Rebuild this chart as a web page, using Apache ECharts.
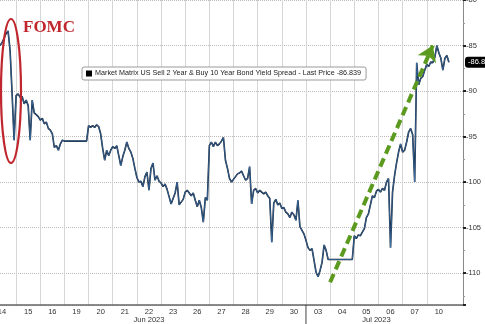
<!DOCTYPE html>
<html>
<head>
<meta charset="utf-8">
<script src="https://cdn.jsdelivr.net/npm/echarts@6/dist/echarts.min.js"></script>
<style>
html, body { margin: 0; padding: 0; background: #fff; }
#chart { width: 485px; height: 324px; }
</style>
</head>
<body>
<div id="chart"></div>
<script>
// trading days on the axis (Jun 14 .. Jul 10, 2023)
var days = ['14', '15', '16', '19', '20', '21', '22', '23', '26', '27', '28', '29', '30', '03', '04', '05', '06', '07', '10'];

// intraday 2s10s spread readings, one array per day
var d14 = [-85.0, -84.7, -84.2, -83.7, -83.4, -85.5, -90.2, -95.4];
var d15 = [-90.5, -90.3, -90.7, -90.6, -91.4, -91.0, -91.6, -95.4, -91.0, -92.4, -92.6, -92.8];
var d16 = [-93.2, -93.0, -93.6, -93.4, -94.1, -94.3, -94.7, -96.2, -96.0, -96.5, -95.8, -95.4];
var d19 = [-95.5, -95.5, -95.5, -95.5, -95.5, -95.5, -95.5, -95.5, -95.5, -95.5, -95.5, -95.5];
var d20 = [-93.8, -94.0, -93.8, -94.0, -93.7, -93.9, -94.7, -96.3, -97.6, -96.5, -97.1, -96.5];
var d21 = [-96.1, -96.3, -96.0, -97.1, -98.2, -97.2, -96.5, -95.6, -96.3, -96.7, -97.4, -98.5];
var d22 = [-99.5, -100.0, -99.9, -100.5, -99.4, -98.9, -100.9, -98.5, -97.9, -99.8, -99.3, -99.9];
var d23 = [-100.1, -100.5, -100.2, -100.8, -101.6, -102.4, -101.8, -101.2, -100.0, -102.5, -102.2, -101.9];
var d26 = [-101.1, -100.9, -101.2, -101.5, -101.2, -102.0, -102.7, -102.0, -102.8, -104.4, -101.7, -102.0];
var d27 = [-96.0, -95.6, -96.1, -95.6, -96.0, -95.8, -95.5, -95.1, -97.6, -98.5, -99.6, -100.0];
var d28 = [-99.7, -99.4, -99.1, -99.0, -98.8, -99.3, -99.8, -99.6, -98.3, -102.4, -100.9, -100.7];
var d29 = [-101.2, -100.9, -101.1, -101.3, -101.1, -101.5, -101.8, -106.6, -102.3, -101.9, -102.5, -102.3];
var d30 = [-102.9, -102.8, -103.3, -103.5, -103.9, -103.3, -103.6, -104.2, -102.0, -104.9, -105.3, -105.7];
var d03 = [-106.4, -107.2, -107.5, -107.3, -108.6, -109.9, -110.4, -109.7, -108.8, -106.9, -107.5, -108.5];
var d04 = [-108.5, -108.5, -108.5, -108.5, -108.5, -108.5, -108.5, -108.5, -108.5, -108.5, -108.5, -108.5];
var d05 = [-105.9, -106.2, -105.8, -105.9, -105.5, -105.1, -103.9, -103.5, -102.5, -101.5, -101.7, -101.0];
var d06 = [-100.8, -101.1, -100.7, -100.9, -100.0, -99.6, -107.2, -101.1, -99.3, -97.9, -96.7, -95.8];
var d07 = [-96.7, -96.5, -95.6, -94.5, -94.1, -94.8, -100.0, -86.9, -89.3, -88.6, -88.4, -87.7];
var d10 = [-87.1, -87.3, -86.8, -86.9, -86.3, -85.0, -85.8, -86.4, -87.7, -86.4, -86.1, -86.839];
var dayValues = [d14, d15, d16, d19, d20, d21, d22, d23, d26, d27, d28, d29, d30, d03, d04, d05, d06, d07, d10];

var seriesName = 'Market Matrix US Sell 2 Year & Buy 10 Year Bond Yield Spread';
var lastPrice = -86.839;
var emptySlots = 7; // blank room after the last session

// green trend arrow (category key, value)
var arrowFrom = ['04|0', -111.0];
var arrowTo = ['10|3', -85.0];

var cats = [], vals = [], labelText = {}, dayStart = {};
days.forEach(function (day, k) {
  dayValues[k].forEach(function (v, i) {
    cats.push(day + '|' + i);
    vals.push(v);
  });
  if (k > 0) dayStart[day + '|0'] = true;
  labelText[day + '|' + (k === 0 ? 1 : 6)] = day;
});
labelText['22|6'] = '22\nJun 2023';
labelText['05|11'] = '\nJul 2023';
for (var p = 0; p < emptySlots; p++) {
  cats.push('pad|' + p);
  vals.push(null);
}

var font = '"Liberation Sans Narrow", "Liberation Sans", sans-serif';
var chart = echarts.init(document.getElementById('chart'));

var baseGraphic = [
  {
    id: 'fomcRing', type: 'ellipse', z: 100,
    shape: { cx: 11, cy: 91, rx: 10, ry: 72 },
    style: { fill: 'none', stroke: '#c0262e', lineWidth: 2.2 }
  },
  {
    id: 'fomcText', type: 'text', z: 100, left: 23, top: 19,
    style: { text: 'FOMC', font: 'bold 17px "Liberation Serif", "DejaVu Serif", serif', fill: '#c0262e' }
  }
];

var option = {
  animation: false,
  backgroundColor: '#fff',
  grid: { left: 0, right: 22, top: 0, bottom: 19, containLabel: false, outerBoundsMode: 'none' },
  legend: {
    left: 82,
    top: 67,
    data: [seriesName],
    icon: 'rect',
    itemWidth: 6,
    itemHeight: 6,
    itemGap: 4,
    padding: [3, 5, 3, 4],
    borderColor: '#9a9a9a',
    borderWidth: 1,
    borderRadius: 2,
    backgroundColor: '#fff',
    formatter: function (name) {
      return name + ' - Last Price ' + lastPrice;
    },
    textStyle: { fontSize: 7.2, color: '#222', fontFamily: font, padding: [0, 0, 0, -2] }
  },
  xAxis: {
    type: 'category',
    data: cats,
    boundaryGap: false,
    axisLine: { lineStyle: { color: '#666', width: 1.5 } },
    axisTick: { show: false },
    axisLabel: {
      interval: function (i, v) { return labelText[v] != null; },
      formatter: function (v) { return labelText[v] || ''; },
      fontSize: 7.5,
      lineHeight: 8,
      color: '#333',
      margin: 3,
      fontFamily: font
    },
    splitLine: {
      show: true,
      interval: function (i, v) { return dayStart[v] === true; },
      lineStyle: { color: '#d6d6d6', width: 1 }
    }
  },
  yAxis: {
    type: 'value',
    position: 'right',
    min: -113.5,
    max: -80,
    splitNumber: 7,
    axisLine: { show: true, lineStyle: { color: '#888' } },
    axisTick: { show: true, length: 3, lineStyle: { color: '#222', width: 2 } },
    minorTick: { show: true, splitNumber: 2, length: 2, lineStyle: { color: '#999' } },
    splitLine: { lineStyle: { color: '#bcbcbc', type: 'dotted' } },
    axisLabel: {
      fontSize: 7.5,
      color: '#333',
      margin: 3,
      fontFamily: font,
      formatter: function (v) { return v % 5 === 0 ? String(v) : ''; }
    }
  },
  series: [
    {
      name: seriesName,
      type: 'line',
      data: vals,
      showSymbol: false,
      connectNulls: false,
      itemStyle: { color: '#000' },
      lineStyle: { color: '#0e1c2e', width: 1.6 },
      z: 2,
      markLine: {
        silent: true,
        animation: false,
        symbol: ['none', 'arrow'],
        symbolSize: 15,
        label: { show: false },
        lineStyle: { color: '#5b9a1e', width: 4, type: [9, 5] },
        data: [[{ coord: arrowFrom }, { coord: arrowTo }]]
      }
    },
    {
      name: seriesName,
      type: 'line',
      data: vals,
      showSymbol: false,
      itemStyle: { color: '#000' },
      lineStyle: { color: '#4d8ccc', width: 0.6 },
      z: 3,
      markLine: {
        silent: true,
        animation: false,
        symbol: 'none',
        lineStyle: { color: 'rgba(0,0,0,0)', width: 0 },
        label: {
          show: true,
          position: 'end',
          distance: 2,
          formatter: String(lastPrice),
          backgroundColor: '#000',
          color: '#fff',
          fontSize: 7.5,
          fontFamily: font,
          padding: [2, 2, 1, 3],
          borderRadius: 3
        },
        data: [{ yAxis: lastPrice }]
      }
    }
  ],
  graphic: baseGraphic
};

chart.setOption(option);

// month separator under the axis at the first July session
var sepX = chart.convertToPixel({ xAxisIndex: 0 }, '03|0');
var bottomY = chart.convertToPixel({ yAxisIndex: 0 }, -113.5);
chart.setOption({
  graphic: baseGraphic.concat([{
    id: 'monthSep', type: 'line', z: 100,
    shape: { x1: sepX, y1: bottomY, x2: sepX, y2: 324 },
    style: { stroke: '#444', lineWidth: 1 }
  }])
});
</script>
</body>
</html>
